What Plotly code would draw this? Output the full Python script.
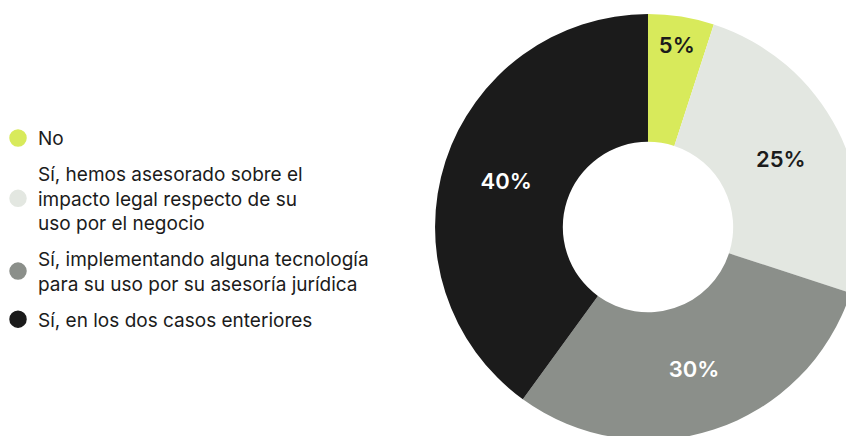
import plotly.graph_objects as go

labels = [
    "No",
    "Sí, hemos asesorado sobre el<br>impacto legal respecto de su<br>uso por el negocio",
    "Sí, implementando alguna tecnología<br>para su uso por su asesoría jurídica",
    "Sí, en los dos casos enteriores",
]
values = [5, 25, 30, 40]
colors = ["#d8ea5b", "#e3e7e1", "#8b8f8a", "#1b1b1b"]
text_colors = ["#1b1b1b", "#1b1b1b", "#ffffff", "#ffffff"]

fig = go.Figure()

fig.add_trace(go.Pie(
    labels=labels,
    values=values,
    marker=dict(colors=colors, line=dict(width=0)),
    hole=0.40,
    sort=False,
    direction="clockwise",
    rotation=0,
    texttemplate="%{value}%",
    textposition="inside",
    insidetextorientation="horizontal",
    textfont=dict(family="Inter", size=22, color=text_colors, weight=600),
    showlegend=False,
    domain=dict(x=[0.5, 0.9988], y=[0.0092, 0.986]),
))

for i, (lab, col) in enumerate(zip(labels, colors)):
    fig.add_trace(go.Scatter(
        x=[None], y=[None], mode="markers", name=lab,
        marker=dict(color=col, size=16, symbol="circle",
                    line=dict(color=col, width=1.5)),
        legendgroup=f"g{i}", showlegend=True,
    ))

fig.update_layout(
    width=854, height=436,
    margin=dict(l=0, r=0, t=0, b=0, autoexpand=False),
    paper_bgcolor="white", plot_bgcolor="white",
    xaxis=dict(visible=False, domain=[0, 0.01]),
    yaxis=dict(visible=False),
    uniformtext=dict(minsize=22, mode="show"),
    legend=dict(
        x=-0.0117, y=0.494, xanchor="left", yanchor="middle",
        traceorder="grouped", tracegroupgap=8,
        font=dict(family="Inter", size=19, color="#1b1b1b"),
        bgcolor="rgba(0,0,0,0)",
    ),
)

fig.write_html("out.html")
